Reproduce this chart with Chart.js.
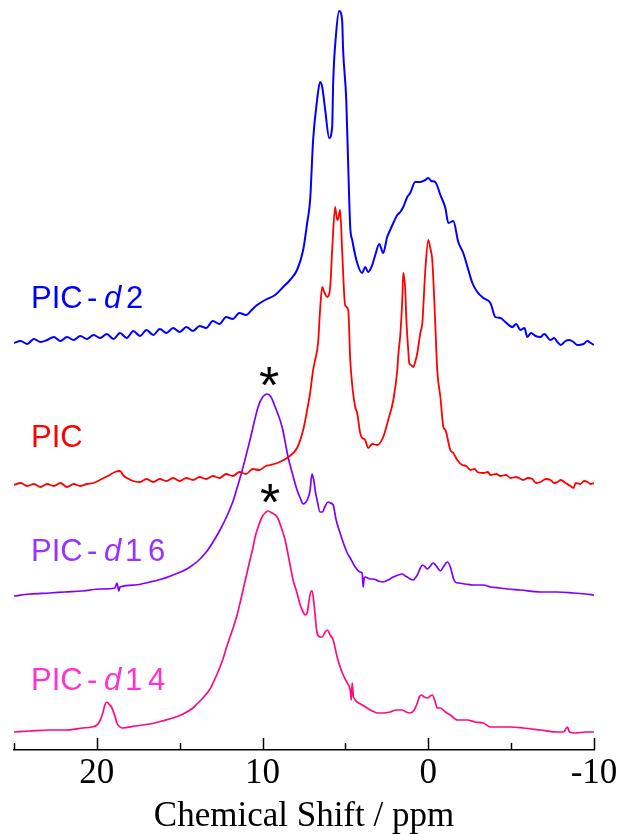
<!DOCTYPE html>
<html>
<head>
<meta charset="utf-8">
<script src="https://cdn.jsdelivr.net/npm/chart.js@4.4.1/dist/chart.umd.min.js"></script>
<style>
html,body{margin:0;padding:0;background:#ffffff;}
#wrap{width:625px;height:834px;position:relative;}
</style>
</head>
<body>
<div id="wrap"><canvas id="c" width="625" height="834"></canvas></div>
<script>
// ---- Data (chemical shift in ppm, intensity in arbitrary stacked units) ----
const seriesNames = ['PIC-d2', 'PIC', 'PIC-d16', 'PIC-d14'];
const xTickLabels = [20, 10, 0, -10];

const d2Ppm = [25.0,24.6,24.2,23.8,23.4,23.0,22.6,22.2,21.8,21.4,
  21.0,20.6,20.2,19.8,19.4,19.0,18.6,18.2,17.8,17.4,
  17.0,16.6,16.2,15.8,15.4,15.0,14.6,14.2,13.8,13.4,
  13.0,12.6,12.2,11.8,11.4,11.0,10.6,10.33,9.85,9.24,
  8.76,8.34,7.92,7.55,7.31,7.13,6.95,6.71,6.53,6.40,
  6.22,5.98,5.80,5.74,5.56,5.38,5.20,5.14,4.95,4.83,
  4.71,4.59,4.29,3.99,3.81,3.63,3.38,3.20,2.96,2.72,
  2.48,2.30,2.11,1.87,1.69,1.51,1.27,1.09,0.79,0.48,
  0.18,0.00,-0.18,-0.42,-0.73,-1.03,-1.21,-1.51,-1.81,-2.11,
  -2.42,-2.66,-2.96,-3.32,-3.75,-4.05,-4.35,-4.65,-5.08,-5.30,
  -5.56,-5.80,-5.98,-6.20,-6.47,-6.77,-7.00,-7.37,-7.60,-7.79,
  -8.00,-8.28,-8.50,-8.76,-9.00,-9.37,-9.60,-9.80,-10.0];
const d2Int = [402,404,401,406,403,405,408,404,408,405,
  409,406,410,407,411,406,412,407,414,409,
  415,410,416,412,417,413,418,414,419,417,
  424,421,428,426,432,430,436,440,445,450,
  458,465,475,495,522,545,605,645,663,658,
  635,607,618,662,712,734,725,695,645,578,
  518,505,482,472,478,473,480,490,501,492,
  508,515,522,530,533,538,548,552,563,563,
  565,567,564,563,550,537,522,524,503,492,
  475,462,453,447,442,428,427,423,418,421,
  415,417,408,412,409,408,411,405,407,403,
  400,404,405,403,400,401,404,402,400];

const picPpm = [25.0,24.6,24.2,23.8,23.4,23.0,22.6,22.2,21.8,21.4,
  21.0,20.6,20.2,19.82,19.34,18.91,18.61,18.37,18.19,17.82,
  17.4,17.0,16.6,16.2,15.8,15.4,15.0,14.6,14.2,13.8,
  13.4,13.0,12.6,12.2,11.8,11.4,11.0,10.6,10.2,9.8,
  9.55,9.12,8.52,7.92,7.55,7.31,7.13,6.95,6.83,6.65,
  6.53,6.40,6.28,6.10,5.92,5.80,5.62,5.50,5.44,5.32,
  5.20,5.02,4.83,4.71,4.59,4.41,4.29,4.11,3.99,3.81,
  3.63,3.38,3.08,2.72,2.42,2.11,1.87,1.81,1.69,1.57,
  1.51,1.39,1.33,1.21,1.15,1.03,0.91,0.79,0.66,0.48,
  0.36,0.18,0.00,-0.12,-0.24,-0.42,-0.54,-0.73,-0.91,-1.03,
  -1.33,-1.51,-1.75,-2.05,-2.30,-2.54,-2.80,-2.96,-3.32,-3.60,
  -3.75,-4.10,-4.35,-4.70,-4.95,-5.30,-5.74,-6.00,-6.28,-6.50,
  -6.77,-7.10,-7.37,-7.60,-7.79,-8.00,-8.28,-8.58,-8.76,-8.90,
  -9.18,-9.40,-9.61,-9.80,-10.0];
const picInt = [260,262,259,261,258,261,259,262,258,261,
  259,261,262,265,269,273,274,269,267,264,
  263,266,263,266,264,267,264,267,265,268,
  266,269,267,271,269,273,271,276,275,279,
  280,282,287,297,315,335,352,375,385,402,
  435,458,453,448,458,495,538,525,526,535,
  495,440,435,385,360,338,332,312,307,305,
  297,301,300,308,325,345,375,390,410,445,
  472,455,428,395,382,380,378,383,392,412,
  422,475,505,497,485,422,375,348,318,315,
  295,292,285,280,279,275,276,273,272,273,
  270,271,269,270,267,268,265,267,266,262,
  263,266,265,262,263,265,262,259,257,262,
  261,264,263,261,262];

const d16Ppm = [25.0,24.05,22.84,21.93,20.85,19.82,18.91,18.79,18.67,18.61,
  17.70,16.80,16.07,15.41,14.80,14.38,13.90,13.35,12.99,12.57,
  12.15,11.78,11.54,11.24,10.76,10.27,10.03,9.73,9.49,9.24,
  8.82,8.46,8.16,7.92,7.73,7.55,7.31,7.13,7.07,7.01,
  6.89,6.83,6.71,6.53,6.40,6.22,6.04,5.92,5.74,5.56,
  5.32,5.08,4.89,4.71,4.41,4.11,3.99,3.93,3.87,3.81,
  3.50,3.32,3.02,2.72,2.42,2.11,1.81,1.57,1.39,1.27,
  1.09,0.91,0.79,0.66,0.48,0.36,0.18,0.06,-0.12,-0.30,
  -0.48,-0.73,-0.91,-1.15,-1.33,-1.51,-1.63,-1.81,-2.24,-2.72,
  -3.32,-3.75,-4.35,-4.77,-5.56,-6.77,-7.79,-8.76,-9.49,-10.0];
const d16Int = [149,151,152,153,154,156,157,162,154,158,
  160,163,166,170,174,178,184,194,203,215,
  229,244,257,274,305,338,347,351,348,338,
  318,288,269,255,247,241,245,255,265,271,
  263,255,245,233,233,239,243,242,240,225,
  212,200,192,187,178,173,172,158,167,168,
  166,166,164,163,165,168,170,171,169,168,
  166,165,167,170,177,180,178,176,179,182,
  179,174,178,183,178,167,163,162,161,160,
  160,158,157,156,155,153,153,152,151,150];

const d14Ppm = [25.0,24.05,22.84,21.93,20.85,20.30,20.00,19.82,19.64,19.52,
  19.40,19.27,19.09,18.91,18.79,18.43,17.70,16.80,16.07,15.41,
  14.80,14.20,13.96,13.60,13.17,12.99,12.69,12.39,12.15,11.78,
  11.54,11.36,11.18,10.94,10.76,10.57,10.45,10.27,10.03,9.85,
  9.67,9.43,9.12,8.88,8.64,8.34,8.16,7.92,7.73,7.55,
  7.43,7.31,7.19,7.07,7.01,6.89,6.71,6.53,6.40,6.22,
  6.10,5.92,5.74,5.50,5.32,5.08,4.89,4.71,4.65,4.59,
  4.53,4.41,4.29,3.99,3.69,3.38,3.08,2.72,2.30,1.93,
  1.57,1.33,1.09,0.85,0.66,0.54,0.42,0.24,0.06,-0.12,
  -0.24,-0.42,-0.54,-0.73,-1.03,-1.33,-1.75,-2.36,-2.84,-3.32,
  -3.75,-4.35,-4.95,-5.74,-6.77,-7.79,-8.16,-8.40,-8.52,-8.88,
  -9.49,-10.0];
const d14Int = [13,14,15,15,17,18,20,24,32,40,
  43,41,37,29,22,17,19,21,24,27,
  31,37,41,47,56,62,73,86,99,117,
  130,142,155,172,185,198,208,218,228,232,
  234,232,228,218,205,180,165,152,140,133,
  130,132,145,154,154,140,112,108,108,113,
  115,110,105,88,78,68,62,55,45,62,
  50,45,43,40,37,34,32,32,33,35,
  35,33,32,35,42,48,50,48,47,49,
  50,43,37,37,33,30,25,25,23,22,
  18,18,18,17,15,13,13,18,13,12,
  13,13];

// asterisk markers (ppm, intensity at glyph centre)
const starPpm = [9.6, 9.55];
const starInt = [370, 253];

function pts(xs, ys) { return xs.map((x, i) => ({x: x, y: ys[i]})); }

const lineColors = ['#0000ff', '#ff0000', '#7f00ff', '#ff0a80'];
const labelColors = ['#0000ff', '#ff0000', '#9933ff', '#ff33cc'];

const labelPlugin = {
  id: 'labels',
  afterDatasetsDraw(chart) {
    const ctx = chart.ctx;
    const xs = chart.scales.x, ys = chart.scales.y;
    const area = chart.chartArea;
    // inward tick marks
    ctx.save();
    ctx.strokeStyle = '#000';
    ctx.lineWidth = 1.5;
    for (let v = -10; v <= 25; v += 5) {
      const px = Math.round(xs.getPixelForValue(v)) + 0.5;
      const len = (v % 10 === 0) ? 12 : 7;
      ctx.beginPath();
      ctx.moveTo(px, area.bottom);
      ctx.lineTo(px, area.bottom - len);
      ctx.stroke();
    }
    ctx.restore();

    // series labels
    const sans = 'Liberation Sans';
    const fs = 31;
    const baseY = [308, 447, 561, 690];
    const suffix = [['2'], null, ['1', '6'], ['1', '4']];
    ctx.save();
    ctx.textBaseline = 'alphabetic';
    ctx.textAlign = 'left';
    for (let i = 0; i < 4; i++) {
      ctx.fillStyle = labelColors[i];
      const y = baseY[i];
      ctx.font = fs + 'px "' + sans + '"';
      ctx.fillText('PIC', 31, y);
      if (!suffix[i]) continue;
      ctx.fillText('-', 87, y);
      ctx.font = 'italic ' + fs + 'px "' + sans + '"';
      ctx.fillText('d', 104, y);
      ctx.font = fs + 'px "' + sans + '"';
      if (suffix[i].length === 1) {
        ctx.fillText(suffix[i][0], 126, y);
      } else {
        ctx.fillText(suffix[i][0], 125, y);
        ctx.fillText(suffix[i][1], 148, y);
      }
    }
    // asterisks
    ctx.fillStyle = '#000';
    ctx.textAlign = 'center';
    ctx.font = '52px "Liberation Sans"';
    for (let k = 0; k < starPpm.length; k++) {
      const px = xs.getPixelForValue(starPpm[k]);
      const py = ys.getPixelForValue(starInt[k]);
      ctx.fillText('*', px, py + 28);
    }
    ctx.restore();
  }
};

const datasets = [
  {label: seriesNames[0], data: pts(d2Ppm, d2Int), borderColor: lineColors[0], borderWidth: 2},
  {label: seriesNames[1], data: pts(picPpm, picInt), borderColor: lineColors[1], borderWidth: 1.8},
  {label: seriesNames[2], data: pts(d16Ppm, d16Int), borderColor: lineColors[2], borderWidth: 1.7},
  {label: seriesNames[3], data: pts(d14Ppm, d14Int), borderColor: lineColors[3], borderWidth: 1.7}
].map(d => Object.assign(d, {pointRadius: 0, tension: 0, cubicInterpolationMode: 'monotone', fill: false, backgroundColor: d.borderColor}));

new Chart(document.getElementById('c'), {
  type: 'line',
  data: {datasets: datasets},
  plugins: [labelPlugin],
  options: {
    responsive: false,
    animation: false,
    devicePixelRatio: 1,
    layout: {padding: {left: 14, right: 31, top: 0, bottom: 0}},
    plugins: {legend: {display: false}, tooltip: {enabled: false}},
    scales: {
      x: {
        type: 'linear', min: -10, max: 25, reverse: true,
        grid: {display: false, drawTicks: false},
        border: {display: true, color: '#000', width: 1.5},
        ticks: {
          stepSize: 5, autoSkip: false, maxRotation: 0, minRotation: 0, padding: 3,
          color: '#000', font: {family: 'Liberation Serif', size: 35},
          callback: (v) => xTickLabels.includes(v) ? String(v) : ''
        },
        title: {
          display: true, text: 'Chemical Shift / ppm', color: '#000',
          font: {family: 'Liberation Serif', size: 35}, padding: {top: 0, bottom: -4}
        },
        afterFit: (s) => { s.height = 84; }
      },
      y: {type: 'linear', display: false, min: -5, max: 745}
    }
  }
});
</script>
</body>
</html>
